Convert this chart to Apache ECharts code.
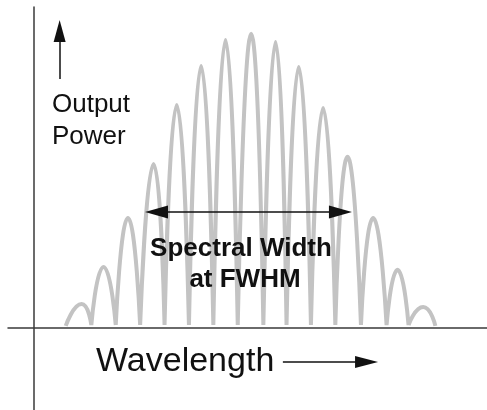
<!DOCTYPE html>
<html>
<head>
<meta charset="utf-8">
<script src="https://cdn.jsdelivr.net/npm/echarts@6/dist/echarts.min.js"></script>
<style>
  html, body { margin: 0; padding: 0; background: #fff; }
  #chart { width: 487px; height: 410px; }
</style>
</head>
<body>
<div id="chart"></div>
<script>
// longitudinal modes (x in mode spacing units, y in % of max power)
var peakPos    = [1.95, 2.85, 3.85, 4.9, 5.85, 6.85, 7.85, 8.9, 9.9, 10.85, 11.85, 12.85, 13.9, 14.9, 15.95]
var peakPower  = [8.1, 20.7, 37.3, 55.6, 75.6, 88.8, 97.6, 99.7, 96.9, 88.5, 74.6, 58.0, 37.3, 19.7, 7.1]
var valleyPos  = [1.3, 2.35, 3.35, 4.35, 5.35, 6.35, 7.35, 8.35, 9.4, 10.35, 11.35, 12.35, 13.4, 14.45, 15.35, 16.45]
var valleyPower = [0.7, 1, 1, 1, 1, 1, 1, 1, 1, 1, 1, 1, 1, 1, 1, 0.7]

// spectral width at FWHM (arrow ends) and its level
var fwhmFrom = 4.55
var fwhmTo = 13.03
var fwhmLevel = 39.3

// one smoothed piece per mode: valley, peak, valley, then a break,
// so the valleys stay pointed and only the tops are rounded
function buildSpectrum() {
  var pts = []
  for (var i = 0; i < peakPos.length; i++) {
    pts.push([valleyPos[i], valleyPower[i]])
    pts.push([peakPos[i], peakPower[i]])
    pts.push([valleyPos[i + 1], valleyPower[i + 1]])
    pts.push([valleyPos[i + 1], null])
  }
  return pts
}

var chart = echarts.init(document.getElementById('chart'))
var font = '"Liberation Sans", Arial, sans-serif'
var arrowLine = { color: '#111', width: 1.5, type: 'solid' }
// markLine symbols are centred on the end point, so pull ends in by half a head
var head = 0.47

var option = {
  animation: false,
  grid: { left: 8, right: 0, top: 7, bottom: 0, containLabel: false },
  xAxis: {
    type: 'value',
    min: -1.066,
    max: 18.566,
    axisLine: { show: true, onZero: true, lineStyle: { color: '#3a3a3a', width: 1.5 } },
    axisTick: { show: false },
    axisLabel: { show: false },
    splitLine: { show: false }
  },
  yAxis: {
    type: 'value',
    min: -27.8,
    max: 108.8,
    axisLine: { show: true, onZero: true, lineStyle: { color: '#3a3a3a', width: 1.5 } },
    axisTick: { show: false },
    axisLabel: { show: false },
    splitLine: { show: false }
  },
  series: [{
    name: 'spectrum',
    type: 'line',
    data: buildSpectrum(),
    smooth: 0.6,
    connectNulls: false,
    showSymbol: false,
    silent: true,
    lineStyle: { color: '#c3c3c3', width: 4 },
    markLine: {
      silent: true,
      animation: false,
      label: { show: false },
      lineStyle: arrowLine,
      symbol: ['triangle', 'triangle'],
      symbolSize: [13, 23],
      data: [
        // FWHM double arrow
        [{ coord: [fwhmFrom + head, fwhmLevel] }, { coord: [fwhmTo - head, fwhmLevel] }],
        // output power arrow (up)
        [{ coord: [1.05, 84.4], symbol: 'none' }, { coord: [1.05, 100.7], symbolSize: [12, 22] }],
        // wavelength arrow (right)
        [{ coord: [10.2, -11.5], symbol: 'none' }, { coord: [13.63, -11.5], symbolSize: [12, 23] }]
      ]
    }
  }],
  graphic: [
    { type: 'text', z: 100, x: 52, y: 105, style: { text: 'Output', font: '26px ' + font, fill: '#111', verticalAlign: 'middle' } },
    { type: 'text', z: 100, x: 52, y: 137, style: { text: 'Power', font: '26px ' + font, fill: '#111', verticalAlign: 'middle' } },
    { type: 'text', z: 100, x: 96, y: 362, style: { text: 'Wavelength', font: '34px ' + font, fill: '#111', verticalAlign: 'middle' } },
    { type: 'text', z: 100, x: 241, y: 249, style: { text: 'Spectral Width', font: 'bold 26px ' + font, fill: '#111', align: 'center', verticalAlign: 'middle' } },
    { type: 'text', z: 100, x: 245, y: 280, style: { text: 'at FWHM', font: 'bold 26px ' + font, fill: '#111', align: 'center', verticalAlign: 'middle' } }
  ]
}

chart.setOption(option)
</script>
</body>
</html>
